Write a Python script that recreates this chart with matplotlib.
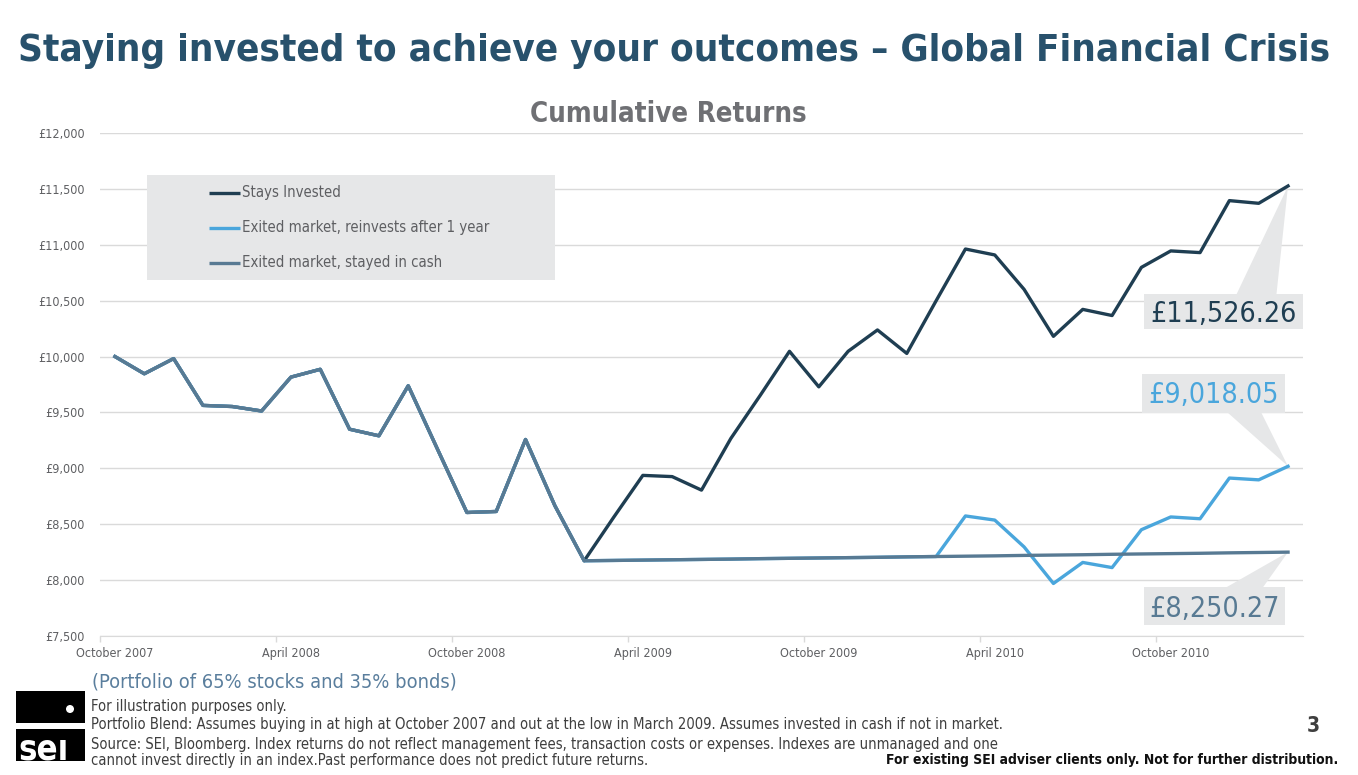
import os
import numpy as np
import pandas as pd
import matplotlib
matplotlib.use("Agg")
import matplotlib.pyplot as plt
from matplotlib import font_manager, transforms
from matplotlib.patches import Rectangle, Polygon, Circle
from matplotlib.lines import Line2D
from matplotlib.ticker import FuncFormatter

# -----------------------------
# DATA
# -----------------------------

months = pd.date_range("2007-10-01", "2011-02-01", freq="MS")

# Oct 2007 .. Feb 2009, all three portfolios share this path
shared_path = [10000, 9846, 9982, 9563, 9553, 9513, 9816, 9886, 9350, 9291,
               9739, 9170, 8605, 8614, 9258, 8666, 8173]

# Mar 2009 .. Feb 2011
stays_after = [8560, 8937, 8926, 8805, 9267, 9652, 10047, 9729, 10047, 10238,
               10028, 10499, 10962, 10909, 10601, 10181, 10422, 10367, 10798,
               10945, 10930, 11395, 11371, 11526.26]
cash_after = [8176, 8179, 8182, 8185, 8188, 8192, 8195, 8198, 8201, 8204,
              8208, 8211, 8214, 8217, 8221, 8224, 8227, 8231, 8234, 8237,
              8240, 8244, 8247, 8250.27]
reinvest_after = [8176, 8179, 8182, 8185, 8188, 8192, 8195, 8198, 8201, 8204,
                  8208, 8211, 8574, 8537, 8297, 7970, 8158, 8112, 8451, 8565,
                  8549, 8913, 8897, 9018.05]

stays = shared_path + stays_after
reinvest = shared_path + reinvest_after
cash = shared_path + cash_after

series_names = ["Stays Invested",
                "Exited market, reinvests after 1 year",
                "Exited market, stayed in cash"]
end_labels = ["£11,526.26", "£9,018.05", "£8,250.27"]

tick_labels = ["October 2007", "April 2008", "October 2008", "April 2009",
               "October 2009", "April 2010", "October 2010"]
y_ticks = [7500, 8000, 8500, 9000, 9500, 10000, 10500, 11000, 11500, 12000]

footnotes = [
    "For illustration purposes only.",
    "Portfolio Blend: Assumes buying in at high at October 2007 and out at the low in March 2009. Assumes invested in cash if not in market.",
    "Source: SEI, Bloomberg. Index returns do not reflect management fees, transaction costs or expenses. Indexes are unmanaged and one",
    "cannot invest directly in an index.Past performance does not predict future returns.",
]

# -----------------------------
# STYLE
# -----------------------------

DARK = "#1F3E52"
LIGHT = "#4AA6DC"
STEEL = "#587A93"
TITLE_C = "#28516C"
GREY_TXT = "#5E5F62"
GRID = "#DADADA"
BOX = "#E6E7E8"

ttf = font_manager.fontManager.ttflist
cond = [f for f in ttf
        if "dejavusanscondensed" in os.path.basename(f.fname).lower().replace("-", "")]
names = {f.name for f in ttf}
if cond:
    family, stretch = cond[0].name, "condensed"
elif "Noto Sans" in names:
    family, stretch = "Noto Sans", "normal"
else:
    family, stretch = "DejaVu Sans", "normal"
plt.rcParams["font.family"] = [family, "DejaVu Sans"]
plt.rcParams["font.stretch"] = stretch

W, H = 1358, 775
fig = plt.figure(figsize=(W / 100, H / 100), dpi=100)
# reference pixel coords (origin top-left)
px = transforms.Affine2D().scale(1 / W, -1 / H).translate(0, 1) + fig.transFigure
renderer = fig.canvas.get_renderer()


def fit(t, width):
    bb = t.get_window_extent(renderer)
    t.set_fontsize(t.get_fontsize() * width / bb.width)
    return t.get_fontsize()


# -----------------------------
# AXES
# -----------------------------

x = np.arange(len(months))
ax = fig.add_axes([100.3 / W, 1 - 636 / H, (1302.7 - 100.3) / W, (636 - 133) / H])
ax.set_xlim(-0.5, len(months) - 0.5)
ax.set_ylim(y_ticks[0], y_ticks[-1])

ax.plot(x, stays, color=DARK, lw=2.4, solid_joinstyle="round", zorder=3)
ax.plot(x, reinvest, color=LIGHT, lw=2.4, solid_joinstyle="round", zorder=4)
ax.plot(x, cash, color=STEEL, lw=2.4, solid_joinstyle="round", zorder=5)

ax.set_yticks(y_ticks)
ax.yaxis.set_major_formatter(FuncFormatter(lambda v, p: f"£{v:,.0f}"))
ax.tick_params(axis="y", length=0, pad=11, labelsize=9, labelcolor=GREY_TXT)

label_pos = [i for i, m in enumerate(months) if m.month in (4, 10)]
ax.set_xticks(label_pos)
ax.set_xticklabels(tick_labels)
ax.tick_params(axis="x", length=0, pad=8, labelsize=9, labelcolor=GREY_TXT)
ax.set_xticks(np.array(label_pos) - 0.5, minor=True)
ax.tick_params(axis="x", which="minor", length=4, width=1, color=GRID)

ax.set_axisbelow(True)
ax.grid(axis="y", color=GRID, lw=1)
for s in ["top", "left", "right"]:
    ax.spines[s].set_visible(False)
ax.spines["bottom"].set_color(GRID)

# -----------------------------
# END-VALUE CALLOUTS
# -----------------------------

to_px = ax.transData + px.inverted()
# (box x0, x1, y0, y1, pointer base y, base x0, x1) relative to end point, ref px
callout_shapes = [
    (-144, 15, 108.5, 143.5, 108.5, -51.6, -11.6),
    (-145.6, -3.3, -92.8, -53.4, -53.4, -60, -26.6),
    (-144, -2.6, 35.1, 73.3, 35.1, -61.6, -25),
]
ends = [stays[-1], reinvest[-1], cash[-1]]
colors = [DARK, LIGHT, STEEL]
texts = []
for val, lab, col, shp in zip(ends, end_labels, colors, callout_shapes):
    ex, ey = to_px.transform((x[-1], val))
    bx0, bx1, by0, by1, base_y, tx0, tx1 = shp
    ax.add_patch(Rectangle((ex + bx0, ey + by0), bx1 - bx0, by1 - by0,
                           transform=px, facecolor=BOX, edgecolor="none",
                           zorder=2, clip_on=False))
    ax.add_patch(Polygon([(ex + tx0, ey + base_y), (ex + tx1, ey + base_y), (ex, ey)],
                         closed=True, transform=px, facecolor=BOX,
                         edgecolor="none", zorder=2, clip_on=False))
    t = ax.text(ex + (bx0 + bx1) / 2, ey + (by0 + by1) / 2, lab, transform=px,
                ha="center", va="baseline", color=col, fontsize=22, zorder=6)
    texts.append((t, ey + (by0 + by1) / 2))

size = fit(texts[0][0], 147)
for t, cy in texts:
    t.set_fontsize(size)
    t.set_y(cy + 0.36 * size / 0.72)

# -----------------------------
# LEGEND
# -----------------------------

fig.add_artist(Rectangle((147, 175), 408, 105, transform=px,
                         facecolor=BOX, edgecolor="none"))
leg_texts = []
for name, col, ly in zip(series_names, colors, [192.5, 227.5, 262.5]):
    fig.add_artist(Line2D([209, 240], [ly, ly], transform=px, color=col,
                          lw=2.4, solid_capstyle="butt"))
    leg_texts.append(fig.text(242.5, ly, name, transform=px, ha="left",
                              va="center", color=GREY_TXT, fontsize=11))
lsize = fit(leg_texts[1], 248)
for t in leg_texts:
    t.set_fontsize(lsize)

# -----------------------------
# TITLES AND FOOTER
# -----------------------------

t = fig.text(18, 61, "Staying invested to achieve your outcomes \u2013 Global Financial Crisis",
             transform=px, ha="left", va="baseline", color=TITLE_C,
             fontsize=30, fontweight="bold")
fit(t, 1312)

t = fig.text(530, 122, "Cumulative Returns", transform=px, ha="left",
             va="baseline", color="#6F7074", fontsize=18, fontweight="bold")
fit(t, 276)

t = fig.text(91.5, 682, "(Portfolio of 65% stocks and 35% bonds)", transform=px,
             ha="left", va="center", color="#5A7E9D", fontsize=14)
fit(t, 368)

foot = []
for line, fy in zip(footnotes, [706, 725, 744, 761]):
    foot.append(fig.text(91, fy, line, transform=px, ha="left", va="center",
                         color="#3F3F3F", fontsize=9.5))
fsize = fit(foot[1], 917)
for t in foot:
    t.set_fontsize(fsize)

fig.text(1313, 726.5, "3", transform=px, ha="center", va="center",
         color="#3F3F3F", fontsize=15, fontweight="bold")
t = fig.text(1338.3, 760, "For existing SEI adviser clients only. Not for further distribution.",
             transform=px, ha="right", va="center", color="#111111",
             fontsize=10, fontweight="bold")
fit(t, 451)

# SEI logo
fig.add_artist(Rectangle((16, 691), 69, 31.5, transform=px,
                         facecolor="black", edgecolor="none"))
fig.add_artist(Circle((70, 709), 4, transform=px, facecolor="white",
                      edgecolor="none"))
logo_box = Rectangle((16, 729), 69, 32, transform=px, facecolor="black",
                     edgecolor="none")
fig.add_artist(logo_box)
lt = fig.text(18, 770, "se\u0131", transform=px, ha="left", va="baseline",
              color="white", fontsize=30, fontweight="bold")
lsz = fit(lt, 50)
lt.set_y(740 + 0.56 * lsz / 0.72)
lt.set_clip_path(logo_box)

fig.savefig("out.png", dpi=100)
